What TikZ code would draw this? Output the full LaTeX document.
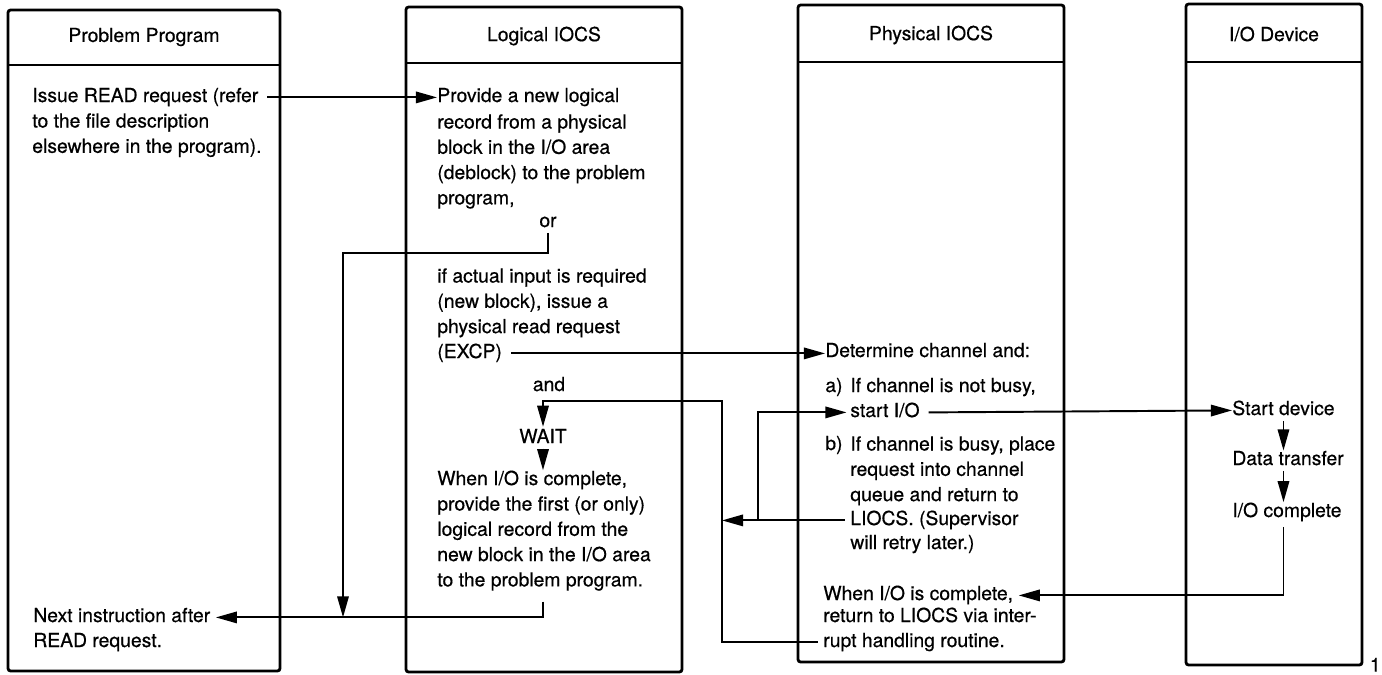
\documentclass[tikz,border=0pt]{standalone}
\usepackage{fontspec}
\setmainfont{TeX Gyre Heros}[FakeBold=0.5]
\usetikzlibrary{arrows.meta}

\begin{document}
\begin{tikzpicture}[x=0.02cm, y=-0.02cm,
  lane/.style={draw, line width=1.6pt, rounded corners=1.5pt},
  l/.style={anchor=base west, inner sep=0pt, font=\fontsize{11}{14.4}\selectfont},
  t/.style={anchor=north west, inner sep=0pt, align=left, font=\fontsize{11}{14.4}\selectfont},
  hd/.style={inner sep=0pt, font=\fontsize{11}{14.4}\selectfont},
  e/.style={-{Triangle[length=12pt, width=6.5pt]}, line width=1.1pt}]
  \useasboundingbox (0,0) rectangle (1382,674);
  \foreach \xa/\xb/\ya/\yb/\yh in {8/280/10/671/65, 406/682/7/672/63,
      798/1064/5/662/62, 1186/1362/4/665/62}{
    \draw[lane] (\xa,\ya) rectangle (\xb,\yb);
    \draw[lane] (\xa,\yh) -- (\xb,\yh);
  }
  \node[hd] (hpp) at (144,37) {Problem Program};
  \node[hd] (hli) at (544,36) {Logical IOCS};
  \node[hd] (hph) at (931,35) {Physical IOCS};
  \node[hd] (hio) at (1274,34) {I/O Device};

  \node[l] (issue) at (32,102) {Issue READ request (refer};
  \node[t] (issue2) at (32,113) {to the file description\\elsewhere in the program).};
  \node[l] (next) at (33,622) {Next instruction after};
  \node[l] (next2) at (33,647) {READ request.};

  \node[l] (prov) at (437,102) {Provide a new logical};
  \node[t] (prov2) at (437,114) {record from a physical\\block in the I/O area\\(deblock) to the problem\\program,};
  \node[l, anchor=base] (or) at (548,227) {or};
  \node[t] (ifact) at (437,268) {if actual input is required\\(new block), issue a\\physical read request};
  \node[l] (excp) at (437,358) {(EXCP)};
  \node[l, anchor=base] (and) at (549,391) {and};
  \node[l, anchor=base] (wait) at (543,443) {WAIT};
  \node[l] (when) at (437,485) {When I/O is complete,};
  \node[t] (when2) at (437,496) {provide the first (or only)\\logical record from the\\new block in the I/O area\\to the problem program.};

  \node[l] (det) at (825,357) {Determine channel and:};
  \node[l] (pa) at (825,392) {a)};
  \node[l] (pa1) at (850,392) {If channel is not busy,};
  \node[l] (start) at (850,417) {start I/O};
  \node[l] (pb) at (825,450) {b)};
  \node[t] (pb1) at (850,436) {If channel is busy, place\\request into channel\\queue and return to};
  \node[l] (liocs) at (850,525) {LIOCS. (Supervisor};
  \node[l] (retry) at (850,549) {will retry later.)};
  \node[l] (done) at (823,600) {When I/O is complete,};
  \node[l] (ret) at (823,622) {return to LIOCS via inter-};
  \node[l] (rupt) at (823,647) {rupt handling routine.};

  \node[l] (sdev) at (1232,415) {Start device};
  \node[l] (dxfer) at (1232,465) {Data transfer};
  \node[l] (iocomp) at (1232,517) {I/O complete};
  \node[hd, anchor=south east] (fig) at (1381,672) {1};

  \coordinate (orturn) at (343,253);
  \coordinate (loop) at (722,401);
  \coordinate (rj) at (758,412);

  \draw[e] ([xshift=5pt]issue.mid east) -- (prov.mid west);
  \draw[e] ([yshift=-3pt]or.south) |- (orturn) -- (orturn |- next.mid east);
  \draw[e] ([xshift=5pt]excp.mid east) -- (excp.mid east -| det.west);
  \draw[e] ([xshift=-3pt]rupt.mid west) -| (loop) -| ([yshift=1pt]wait.north);
  \draw[e] ([yshift=-3pt]wait.south) -- (wait.south |- when.north);
  \draw[e] ([yshift=-6pt]when2.south -| wait.south) |- ([xshift=3pt]next.mid east);
  \draw[e] ([xshift=-3pt]liocs.mid west) -- (liocs.mid west -| loop);
  \draw[e] (liocs.mid west -| rj) |- ([xshift=-2pt]start.mid west);
  \draw[e] ([xshift=5pt]start.mid east) -- (sdev.mid west);
  \draw[e] ([yshift=-3pt]sdev.south) -- (sdev.south |- dxfer.north);
  \draw[e] ([yshift=-3pt]dxfer.south -| sdev.south) -- (sdev.south |- iocomp.north);
  \draw[e] ([yshift=-3pt]iocomp.south -| sdev.south) |- ([xshift=3pt]done.mid east);
\end{tikzpicture}
\end{document}
